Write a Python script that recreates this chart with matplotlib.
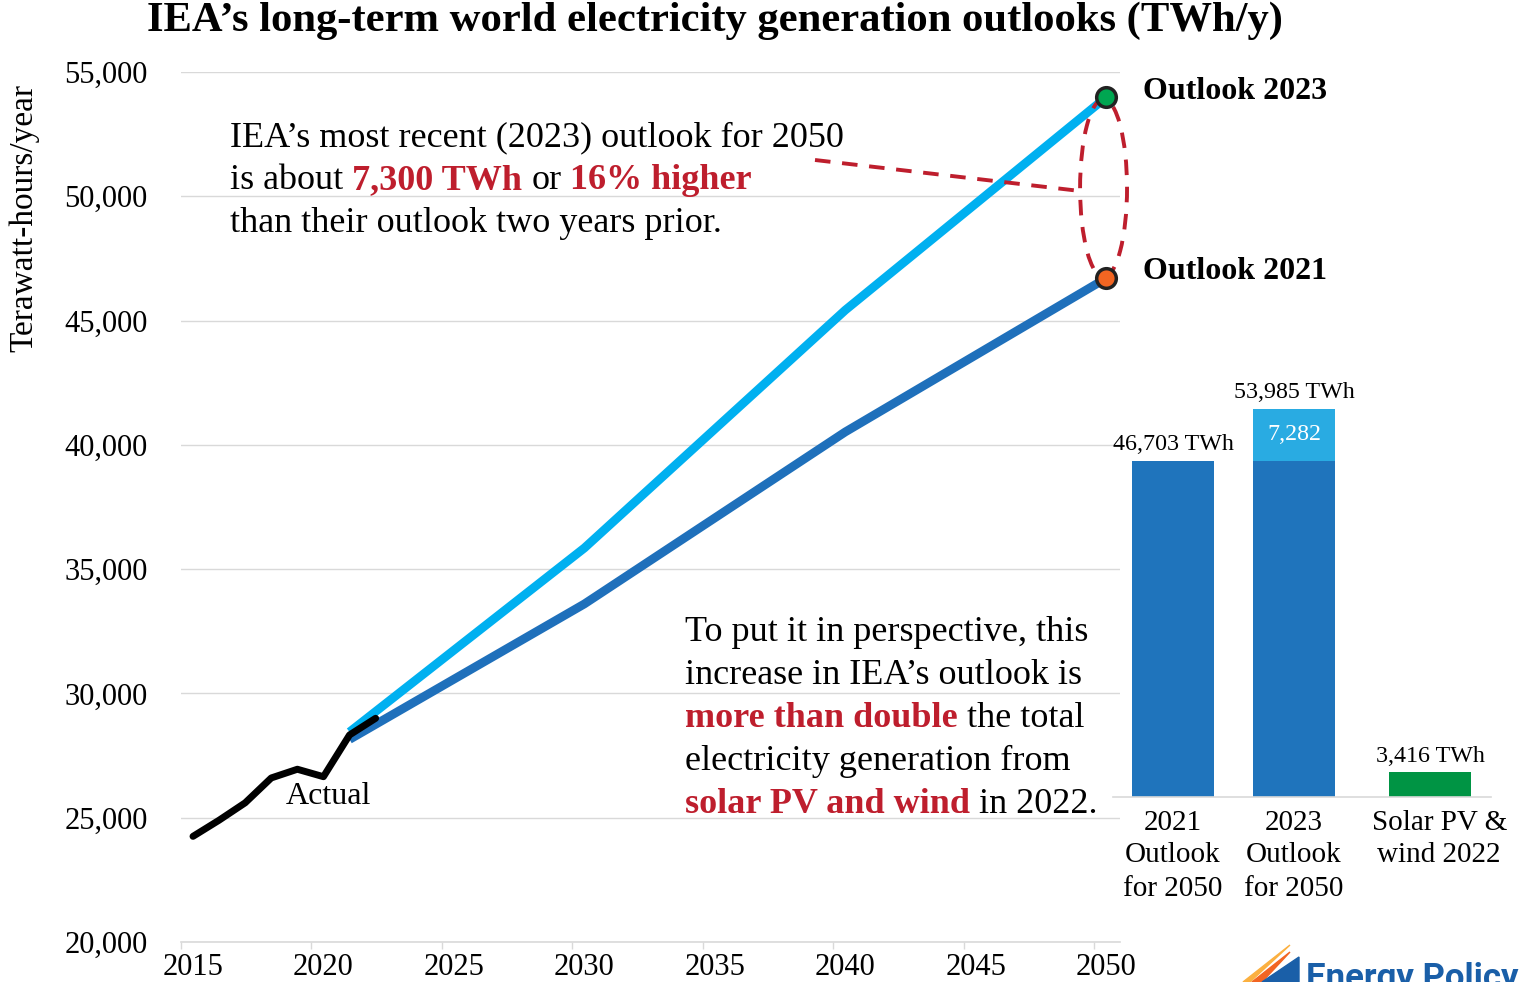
import matplotlib
matplotlib.use('Agg')
import matplotlib.pyplot as plt
from matplotlib.patches import Ellipse, Polygon

plt.rcParams['font.family'] = ['Liberation Serif', 'DejaVu Serif']

# data
actual_years = [2015, 2016, 2017, 2018, 2019, 2020, 2021, 2022]
actual_twh = [24250, 24900, 25600, 26600, 26950, 26650, 28330, 29000]

o2023_years = [2021, 2030, 2040, 2050]
o2023_twh = [28450, 35850, 45420, 53985]

o2021_years = [2021, 2030, 2040, 2050]
o2021_twh = [28150, 33600, 40520, 46703]

bar_labels = ['2021\nOutlook\nfor 2050', '2023\nOutlook\nfor 2050', 'Solar PV &\nwind 2022']
bar_base = [46703, 46703, 3416]
bar_extra = [0, 7282, 0]
bar_totals = ['46,703 TWh', '53,985 TWh', '3,416 TWh']

RED = '#be1e2d'
LIGHT = '#00b0f0'
DARK = '#1f70bb'
GRID = '#d9d9d9'

fig = plt.figure(figsize=(15.37, 9.82), dpi=100)
W, H = 1537, 982

ax = fig.add_axes([181 / W, 40 / H, (1120 - 181) / W, (942 - 72) / H])
ax.set_xlim(2014.54, 2050.53)
ax.set_ylim(20000, 55000)

ax.plot(o2021_years, o2021_twh, color=DARK, lw=6.3, solid_capstyle='butt', zorder=3)
ax.plot(o2023_years, o2023_twh, color=LIGHT, lw=6.3, solid_capstyle='butt', zorder=3)
ax.plot(actual_years, actual_twh, color='black', lw=5, solid_capstyle='round', zorder=4)

ax.scatter([o2023_years[-1]], [o2023_twh[-1]], s=200, color='#00a651', edgecolor='#222222',
           linewidth=2.5, zorder=6, clip_on=False)
ax.scatter([o2021_years[-1]], [o2021_twh[-1]], s=200, color='#f26522', edgecolor='#222222',
           linewidth=2.5, zorder=6, clip_on=False)

# dashed ellipse + pointer line
ell = Ellipse((2049.9, 50330), width=1.8, height=7150, fill=False, edgecolor=RED, lw=2.8,
              linestyle=(0, (4, 3)), zorder=5, clip_on=False)
ax.add_patch(ell)
ax.plot([2038.84, 2049.0], [51460, 50213], color=RED, lw=2.8, linestyle=(0, (4, 3)), zorder=5)

ax.set_yticks(range(20000, 55001, 5000))
ax.set_yticklabels(['{:,}'.format(v) for v in range(20000, 55001, 5000)], fontsize=22)
ax.set_xticks(range(2015, 2051, 5))
ax.set_xticklabels([str(y) for y in range(2015, 2051, 5)], fontsize=22)
ax.set_xticks([y - 0.46 for y in range(2015, 2051, 5)], minor=True)
ax.tick_params(axis='y', length=0, pad=24)
ax.tick_params(axis='x', which='major', length=0, pad=8)
ax.tick_params(axis='x', which='minor', length=5, color=GRID, width=1)
ax.grid(axis='y', color=GRID, lw=1)
ax.set_axisbelow(True)
for s in ['top', 'right', 'left']:
    ax.spines[s].set_visible(False)
ax.spines['bottom'].set_color(GRID)
ax.spines['bottom'].set_linewidth(1.2)

ax.text(2018.55, 25870, 'Actual', fontsize=23, va='center', ha='left')
ax.text(2051.4, 54230, 'Outlook 2023', fontsize=23, fontweight='bold', va='center', ha='left', clip_on=False)
ax.text(2051.4, 46960, 'Outlook 2021', fontsize=23, fontweight='bold', va='center', ha='left', clip_on=False)

fig.text(24 / W, 1 - 218 / H, 'Terawatt-hours/year', rotation=90, fontsize=24, ha='center', va='center')
fig.text(715 / W, 1 - 21 / H, 'IEA\u2019s long-term world electricity generation outlooks (TWh/y)',
         fontsize=30.7, fontweight='bold', ha='center', va='center')


def rich_block(x, y, lines, size=26, step=43):
    # each line is a list of (text, colour, weight); parts are joined by one space
    renderer = fig.canvas.get_renderer()
    space = size * 0.25 * fig.dpi / 72
    for i, parts in enumerate(lines):
        px = x
        py = H - y - i * step
        for txt, col, wt in parts:
            t = fig.text(px / W, py / H, txt, color=col, fontweight=wt, fontsize=size,
                         ha='left', va='baseline')
            bb = t.get_window_extent(renderer)
            px += bb.width + space


K = 'black'
rich_block(230, 146, [
    [('IEA\u2019s most recent (2023) outlook for 2050', K, 'normal')],
    [('is about', K, 'normal'), ('7,300 TWh', RED, 'bold'), ('or', K, 'normal'), ('16% higher', RED, 'bold')],
    [('than their outlook two years prior.', K, 'normal')],
])
rich_block(685, 641, [
    [('To put it in perspective, this', K, 'normal')],
    [('increase in IEA\u2019s outlook is', K, 'normal')],
    [('more than double', RED, 'bold'), ('the total', K, 'normal')],
    [('electricity generation from', K, 'normal')],
    [('solar PV and wind', RED, 'bold'), ('in 2022.', K, 'normal')],
])

# inset bar chart
bx = fig.add_axes([1113 / W, (982 - 797) / H, (1491 - 1113) / W, 431.6 / H])
pos = [0, 1, 2.124]
bx.bar(pos, bar_base, width=0.678, color=['#1f74bc', '#1f74bc', '#009444'], zorder=2)
bx.bar(pos, bar_extra, bottom=bar_base, width=0.678, color='#29abe2', zorder=2)
bx.set_xlim(-0.496, 2.628)
bx.set_ylim(0, 60000)
for p, b, e, lab in zip(pos, bar_base, bar_extra, bar_totals):
    bx.annotate(lab, (p, b + e), xytext=(0, 4), textcoords='offset points', ha='center', va='bottom', fontsize=17.3)
    if e:
        bx.text(p, b + e / 2, '{:,}'.format(e), color='white', fontsize=17.3, ha='center', va='center')
bx.set_xticks([0, 1, 2.2])
bx.set_xticklabels(bar_labels, fontsize=21, linespacing=1.35)
bx.tick_params(axis='x', length=0, pad=9)
bx.set_yticks([])
bx.patch.set_alpha(0)
for s in ['top', 'right', 'left']:
    bx.spines[s].set_visible(False)
bx.spines['bottom'].set_color(GRID)
bx.spines['bottom'].set_linewidth(1.2)

# logo
fig.patches.append(Polygon([[1243 / W, 0], [1290 / W, 1 - 945 / H], [1250 / W, 0]], closed=True,
                           transform=fig.transFigure, color='#fbb040'))
fig.patches.append(Polygon([[1252 / W, 0], [1290 / W, 1 - 952 / H], [1262 / W, 0]], closed=True,
                           transform=fig.transFigure, color='#f26522'))
fig.patches.append(Polygon([[1262 / W, 0], [1299 / W, 1 - 957 / H], [1299 / W, 0]], closed=True,
                           transform=fig.transFigure, color='#1a5fa8'))
fig.text(1306 / W, 1 - 962 / H, 'Energy Policy', fontsize=25, fontweight='bold', color='#1a5fa8',
         family=['Roboto', 'DejaVu Sans'], ha='left', va='top')

fig.savefig('out.png', dpi=100)
